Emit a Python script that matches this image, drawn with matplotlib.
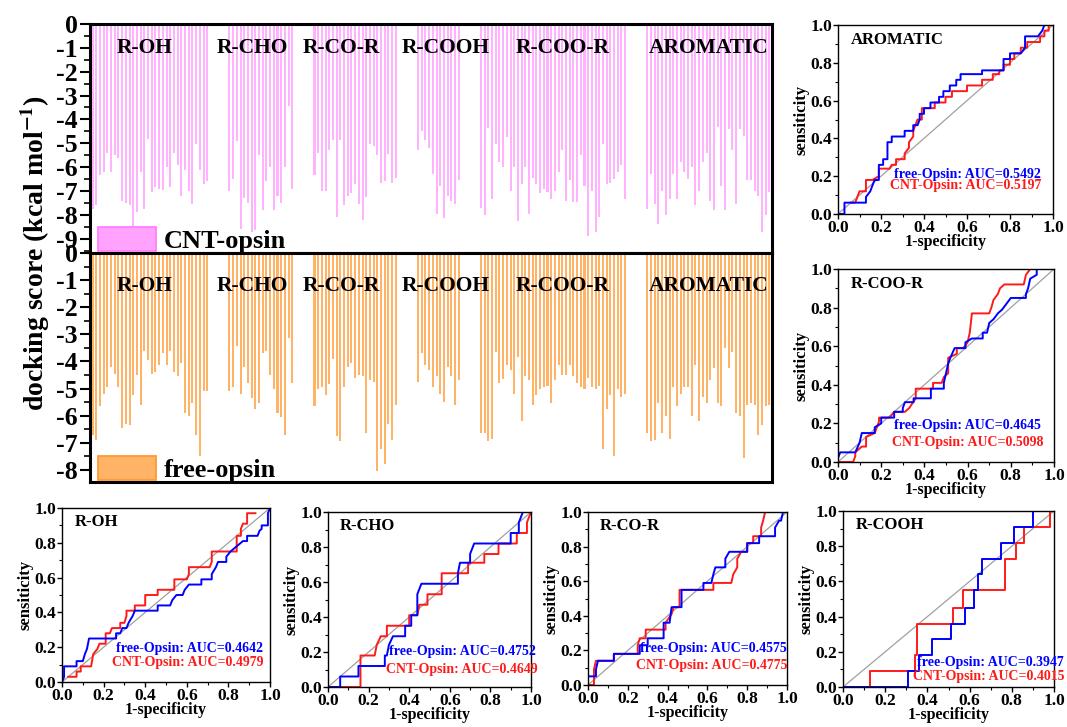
import matplotlib.pyplot as plt
from matplotlib.patches import Patch
from matplotlib.ticker import MultipleLocator
import numpy as np

plt.rcParams['font.family'] = ['Liberation Serif', 'DejaVu Serif']
plt.rcParams['font.weight'] = 'bold'
plt.rcParams['mathtext.fontset'] = 'stix'

groups = ["R-OH", "R-CHO", "R-CO-R", "R-COOH", "R-COO-R", "AROMATIC"]

# docking scores, CNT-opsin
cnt_roh = [-7.75, -7.6, -6.35, -6.2, -5.4, -6.2, -5.5, -5.6, -7.4, -7.5, -7.6, -8.5, -7.9, -6.2, -7.75, -4.8,
           -7.05, -6.85, -6.9, -6.95, -6.0, -6.85, -5.4, -5.9, -7.2, -6.1, -7.0, -7.55, -5.05, -6.1, -6.7, -6.6]
cnt_cho = [-7.0, -6.5, -4.9, -8.6, -7.3, -7.5, -8.7, -8.65, -5.5, -7.8, -6.6, -6.0, -7.8, -7.2, -7.5, -6.0,
           -3.45, -6.9]
cnt_cor = [-6.35, -5.4, -7.0, -7.0, -5.3, -4.85, -8.1, -4.85, -7.6, -7.2, -7.1, -6.7, -7.55, -8.2, -7.25, -5.05,
           -5.1, -5.5, -6.65, -6.6, -5.45, -6.65, -6.45]
cnt_cooh = [-5.3, -4.5, -4.85, -5.2, -6.3, -7.95, -6.8, -8.15, -7.2, -7.4, -7.55, -6.55]
cnt_coor = [-7.7, -8.0, -4.35, -7.35, -5.05, -5.8, -6.0, -4.75, -7.0, -6.0, -8.25, -6.7, -6.0, -7.95, -6.45, -6.7,
            -7.1, -6.9, -7.05, -7.35, -7.0, -6.2, -5.3, -7.4, -6.55, -7.45, -7.45, -5.5, -6.8, -8.9, -7.0, -8.7,
            -8.1, -5.05, -6.7, -6.65, -6.5, -6.2, -5.9, -7.35]
cnt_arom = [-7.75, -6.3, -7.55, -8.4, -7.0, -8.0, -7.35, -6.3, -7.35, -5.8, -6.2, -6.5, -6.0, -7.6, -7.0, -5.8,
            -5.4, -7.4, -7.8, -4.3, -6.8, -7.8, -4.4, -5.3, -7.55, -4.4, -4.7, -6.55, -6.55, -7.0, -7.2, -8.7,
            -8.0, -7.05]

# docking scores, free-opsin
free_roh = [-6.7, -6.9, -5.65, -5.2, -4.95, -4.2, -4.45, -4.95, -6.45, -6.3, -6.35, -5.25, -4.5, -5.6, -3.6, -3.95,
            -4.45, -4.4, -4.15, -3.7, -4.15, -3.6, -4.4, -4.55, -4.05, -5.9, -6.0, -5.55, -6.7, -7.5, -5.1, -5.1]
free_cho = [-5.1, -4.95, -3.45, -5.2, -4.2, -4.8, -5.35, -5.75, -5.55, -3.7, -3.6, -4.5, -5.0, -5.9, -6.05, -6.7,
            -3.15, -4.8]
free_cor = [-5.65, -5.0, -4.95, -5.25, -4.85, -3.9, -6.75, -6.95, -4.95, -4.2, -4.05, -4.6, -4.5, -4.55, -6.65,
            -4.7, -4.75, -8.05, -7.25, -7.8, -6.3, -6.9, -5.6]
free_cooh = [-4.75, -3.7, -4.15, -4.3, -4.95, -4.55, -5.2, -5.5, -4.2, -4.55, -5.6, -4.7]
free_coor = [-6.65, -6.65, -6.95, -6.85, -3.65, -4.8, -4.65, -4.15, -4.3, -5.2, -3.85, -6.2, -4.55, -4.7, -5.6,
             -5.25, -5.0, -4.95, -4.9, -5.55, -4.7, -4.15, -4.5, -4.5, -4.15, -4.55, -4.8, -4.95, -5.0, -4.6,
             -4.95, -5.0, -4.9, -7.25, -5.75, -5.25, -7.5, -5.0, -5.3, -5.2]
free_arom = [-6.65, -6.95, -6.9, -5.55, -6.65, -6.0, -6.85, -4.95, -5.65, -5.2, -4.95, -4.95, -6.0, -4.15, -6.2,
             -5.3, -5.55, -4.7, -4.25, -5.55, -5.65, -3.5, -4.25, -3.65, -5.9, -6.0, -7.55, -5.6, -5.55, -5.6,
             -6.7, -6.35, -5.65, -5.6]

cnt_scores = [cnt_roh, cnt_cho, cnt_cor, cnt_cooh, cnt_coor, cnt_arom]
free_scores = [free_roh, free_cho, free_cor, free_cooh, free_coor, free_arom]

# ROC curves (1-specificity, sensitivity) for free-Opsin (blue) and CNT-Opsin (red)
arom_free = [(0, 0), (0.03, 0), (0.03, 0.06), (0.13, 0.06), (0.13, 0.09), (0.15, 0.12), (0.16, 0.15), (0.17, 0.18),
             (0.19, 0.18), (0.19, 0.26), (0.21, 0.26), (0.21, 0.29), (0.23, 0.29), (0.23, 0.38), (0.25, 0.38),
             (0.25, 0.41), (0.31, 0.41), (0.31, 0.44), (0.35, 0.44), (0.35, 0.47), (0.37, 0.47), (0.38, 0.5),
             (0.38, 0.53), (0.4, 0.53), (0.4, 0.56), (0.43, 0.56), (0.43, 0.59), (0.47, 0.59), (0.47, 0.62),
             (0.49, 0.62), (0.49, 0.65), (0.52, 0.65), (0.52, 0.68), (0.55, 0.68), (0.55, 0.71), (0.57, 0.71),
             (0.57, 0.74), (0.67, 0.74), (0.67, 0.76), (0.77, 0.76), (0.77, 0.82), (0.8, 0.82), (0.8, 0.85),
             (0.85, 0.85), (0.87, 0.88), (0.87, 0.94), (0.93, 0.94), (0.95, 0.97), (0.96, 1.0), (1, 1)]
arom_cnt = [(0.06, 0.06), (0.08, 0.06), (0.09, 0.09), (0.1, 0.12), (0.13, 0.12), (0.13, 0.18), (0.16, 0.18),
            (0.19, 0.2), (0.19, 0.24), (0.24, 0.24), (0.25, 0.26), (0.27, 0.26), (0.27, 0.29), (0.31, 0.29),
            (0.31, 0.32), (0.33, 0.35), (0.33, 0.38), (0.35, 0.41), (0.35, 0.44), (0.36, 0.47), (0.37, 0.5),
            (0.39, 0.5), (0.39, 0.56), (0.45, 0.56), (0.45, 0.59), (0.5, 0.59), (0.5, 0.62), (0.53, 0.62),
            (0.53, 0.65), (0.6, 0.65), (0.6, 0.68), (0.67, 0.68), (0.67, 0.71), (0.72, 0.71), (0.72, 0.74),
            (0.75, 0.74), (0.75, 0.76), (0.77, 0.76), (0.77, 0.79), (0.8, 0.79), (0.8, 0.82), (0.82, 0.82),
            (0.82, 0.85), (0.85, 0.85), (0.85, 0.88), (0.88, 0.88), (0.88, 0.91), (0.94, 0.91), (0.94, 0.94),
            (0.96, 0.94), (0.96, 0.97), (0.98, 0.97), (0.98, 1.0), (1, 1)]
coor_free = [(0, 0.02), (0.01, 0.05), (0.08, 0.05), (0.1, 0.1), (0.11, 0.15), (0.17, 0.15), (0.17, 0.18),
             (0.2, 0.2), (0.2, 0.23), (0.26, 0.23), (0.26, 0.26), (0.3, 0.26), (0.3, 0.28), (0.31, 0.31),
             (0.35, 0.31), (0.35, 0.33), (0.43, 0.33), (0.43, 0.38), (0.49, 0.38), (0.49, 0.41), (0.5, 0.46),
             (0.51, 0.51), (0.52, 0.54), (0.54, 0.59), (0.59, 0.59), (0.59, 0.62), (0.62, 0.64), (0.67, 0.64),
             (0.67, 0.67), (0.69, 0.67), (0.7, 0.72), (0.72, 0.74), (0.74, 0.77), (0.76, 0.79), (0.78, 0.82),
             (0.8, 0.85), (0.87, 0.85), (0.87, 0.87), (0.88, 0.9), (0.89, 0.95), (0.92, 0.97), (0.92, 1.0), (1, 1)]
coor_cnt = [(0, 0), (0.07, 0), (0.08, 0.03), (0.08, 0.05), (0.11, 0.08), (0.13, 0.08), (0.13, 0.13), (0.17, 0.15),
            (0.18, 0.18), (0.19, 0.21), (0.19, 0.23), (0.24, 0.23), (0.26, 0.26), (0.31, 0.26), (0.33, 0.28),
            (0.36, 0.33), (0.36, 0.38), (0.44, 0.38), (0.44, 0.41), (0.48, 0.41), (0.49, 0.44), (0.51, 0.46),
            (0.51, 0.54), (0.55, 0.56), (0.55, 0.59), (0.58, 0.59), (0.6, 0.62), (0.61, 0.67), (0.62, 0.77),
            (0.7, 0.77), (0.71, 0.8), (0.72, 0.84), (0.74, 0.87), (0.75, 0.9), (0.77, 0.92), (0.86, 0.92),
            (0.87, 0.97), (0.89, 1.0), (1, 1)]
roh_free = [(0, 0), (0.01, 0.03), (0.01, 0.09), (0.07, 0.09), (0.07, 0.12), (0.1, 0.12), (0.11, 0.16),
            (0.12, 0.19), (0.13, 0.25), (0.26, 0.25), (0.26, 0.28), (0.28, 0.28), (0.29, 0.31), (0.31, 0.31),
            (0.32, 0.34), (0.34, 0.38), (0.35, 0.41), (0.46, 0.41), (0.46, 0.44), (0.52, 0.44), (0.53, 0.47),
            (0.55, 0.5), (0.58, 0.5), (0.59, 0.53), (0.61, 0.56), (0.67, 0.56), (0.67, 0.59), (0.72, 0.59),
            (0.72, 0.62), (0.74, 0.66), (0.75, 0.69), (0.79, 0.69), (0.79, 0.72), (0.81, 0.75), (0.84, 0.78),
            (0.87, 0.81), (0.89, 0.81), (0.89, 0.84), (0.94, 0.84), (0.95, 0.87), (0.96, 0.88), (0.96, 0.9),
            (0.99, 0.9), (0.99, 0.97), (1.0, 1.0)]
roh_cnt = [(0.03, 0.03), (0.07, 0.03), (0.07, 0.06), (0.09, 0.06), (0.09, 0.09), (0.14, 0.09), (0.15, 0.16),
           (0.17, 0.19), (0.18, 0.22), (0.21, 0.22), (0.21, 0.28), (0.23, 0.28), (0.24, 0.31), (0.28, 0.31),
           (0.28, 0.34), (0.3, 0.34), (0.31, 0.38), (0.31, 0.41), (0.35, 0.41), (0.35, 0.44), (0.4, 0.44),
           (0.4, 0.5), (0.46, 0.5), (0.46, 0.53), (0.54, 0.53), (0.54, 0.59), (0.6, 0.59), (0.61, 0.62),
           (0.61, 0.66), (0.71, 0.66), (0.72, 0.69), (0.72, 0.75), (0.84, 0.75), (0.84, 0.84), (0.86, 0.84),
           (0.86, 0.88), (0.87, 0.91), (0.89, 0.91), (0.89, 0.97), (0.93, 0.97)]
cho_free = [(0, 0), (0.06, 0), (0.06, 0.06), (0.15, 0.06), (0.15, 0.12), (0.28, 0.12), (0.28, 0.18), (0.29, 0.18),
            (0.3, 0.24), (0.32, 0.29), (0.38, 0.29), (0.38, 0.35), (0.41, 0.35), (0.41, 0.41), (0.44, 0.41),
            (0.44, 0.53), (0.46, 0.59), (0.64, 0.59), (0.64, 0.65), (0.65, 0.71), (0.7, 0.71), (0.7, 0.76),
            (0.72, 0.82), (0.9, 0.82), (0.9, 0.88), (0.94, 0.88), (0.94, 0.94), (0.96, 1.0), (1, 1)]
cho_cnt = [(0, 0), (0.16, 0), (0.16, 0.18), (0.23, 0.18), (0.24, 0.24), (0.26, 0.29), (0.29, 0.29), (0.29, 0.35),
           (0.4, 0.35), (0.4, 0.41), (0.44, 0.41), (0.45, 0.47), (0.49, 0.47), (0.49, 0.53), (0.56, 0.53),
           (0.56, 0.65), (0.69, 0.65), (0.69, 0.71), (0.77, 0.71), (0.77, 0.76), (0.84, 0.76), (0.84, 0.82),
           (0.93, 0.82), (0.93, 0.88), (0.98, 0.88), (0.98, 0.94), (1.0, 1.0)]
cor_free = [(0, 0.05), (0.04, 0.05), (0.04, 0.09), (0.05, 0.14), (0.13, 0.14), (0.13, 0.18), (0.26, 0.18),
            (0.26, 0.23), (0.3, 0.23), (0.3, 0.27), (0.38, 0.27), (0.38, 0.36), (0.41, 0.36), (0.42, 0.45),
            (0.47, 0.45), (0.47, 0.55), (0.58, 0.55), (0.58, 0.59), (0.62, 0.59), (0.63, 0.64), (0.64, 0.68),
            (0.69, 0.68), (0.69, 0.73), (0.71, 0.77), (0.8, 0.77), (0.8, 0.82), (0.86, 0.82), (0.86, 0.86),
            (0.94, 0.86), (0.94, 0.91), (0.96, 0.95), (0.97, 0.95), (0.98, 1.0)]
cor_cnt = [(0, 0), (0.03, 0), (0.03, 0.09), (0.04, 0.14), (0.13, 0.14), (0.13, 0.18), (0.25, 0.18), (0.25, 0.23),
           (0.26, 0.27), (0.29, 0.27), (0.29, 0.32), (0.39, 0.32), (0.39, 0.36), (0.42, 0.41), (0.43, 0.45),
           (0.46, 0.45), (0.46, 0.55), (0.63, 0.55), (0.63, 0.59), (0.72, 0.59), (0.73, 0.64), (0.75, 0.68),
           (0.75, 0.73), (0.77, 0.77), (0.8, 0.77), (0.8, 0.82), (0.83, 0.82), (0.83, 0.86), (0.87, 0.86),
           (0.87, 0.91), (0.88, 0.95), (0.89, 1.0), (1, 1)]
cooh_free = [(0, 0), (0.31, 0), (0.31, 0.09), (0.36, 0.09), (0.36, 0.18), (0.42, 0.18), (0.42, 0.27), (0.51, 0.27),
             (0.51, 0.36), (0.58, 0.36), (0.58, 0.45), (0.62, 0.45), (0.62, 0.55), (0.64, 0.55), (0.64, 0.64),
             (0.66, 0.64), (0.66, 0.73), (0.75, 0.73), (0.75, 0.82), (0.81, 0.82), (0.81, 0.91), (0.9, 0.91),
             (0.9, 1.0), (1, 1)]
cooh_cnt = [(0, 0), (0.13, 0), (0.13, 0.09), (0.34, 0.09), (0.34, 0.18), (0.35, 0.18), (0.35, 0.36), (0.52, 0.36),
            (0.52, 0.45), (0.57, 0.45), (0.57, 0.55), (0.77, 0.55), (0.77, 0.73), (0.82, 0.73), (0.82, 0.82),
            (0.86, 0.82), (0.86, 0.91), (0.98, 0.91), (0.98, 1.0), (1, 1)]

auc_free = {"AROMATIC": "0.5492", "R-COO-R": "0.4645", "R-OH": "0.4642",
            "R-CHO": "0.4752", "R-CO-R": "0.4575", "R-COOH": "0.3947"}
auc_cnt = {"AROMATIC": "0.5197", "R-COO-R": "0.5098", "R-OH": "0.4979",
           "R-CHO": "0.4649", "R-CO-R": "0.4775", "R-COOH": "0.4015"}

pink = "#ffb3ff"
orange = "#ffb366"

W, H = 1067, 727


def box(l, t, r, b):
    return [l / W, 1 - b / H, (r - l) / W, (b - t) / H]


fig = plt.figure(figsize=(W / 100, H / 100), dpi=100)

# ---- docking score bars ----
gap = 5
positions = []
start = 0
for s in cnt_scores:
    positions.append(np.arange(start, start + len(s)))
    start += len(s) + gap
xmax = start - gap
label_shift = [-1.3, -2.4, -3.6, 2.1, 2.7, 0.0]  # group labels sit a bit off-centre

ax_top = fig.add_axes(box(90, 24, 772, 253))
ax_bot = fig.add_axes(box(90, 253, 772, 482))

panels = [(ax_top, cnt_scores, pink, "#ffa3ff", "#ff80ff", "CNT-opsin", -9.6, 10, -1.0),
          (ax_bot, free_scores, orange, "#ffb366", "#ff9933", "free-opsin", -8.45, 9, -1.2)]
for ax, scores, col, fc, edge, name, ymin, nt, ylab in panels:
    for g, x, s, dx in zip(groups, positions, scores, label_shift):
        ax.bar(x, s, width=0.55, color=col, linewidth=0)
        ax.text(x.mean() + dx, ylab, g, ha="center", va="center", fontsize=15.5, fontweight="bold")
    ax.set_xlim(-0.7, xmax - 0.3)
    ax.set_ylim(ymin, 0)
    ax.set_yticks(-np.arange(nt))
    ax.set_yticklabels([str(-i) if i else "0" for i in range(nt)])
    ax.yaxis.set_minor_locator(MultipleLocator(0.5))
    ax.set_xticks([])
    ax.tick_params(axis="y", which="major", direction="out", length=7, width=1.5, labelsize=18.5, pad=2)
    ax.tick_params(axis="y", which="minor", direction="out", length=4, width=1.2)
    for sp in ax.spines.values():
        sp.set_linewidth(2.2)
    handle = Patch(facecolor=fc, edgecolor=edge, linewidth=1.3)
    ax.legend([handle], [name], loc="lower left", bbox_to_anchor=(0.008, -0.012), frameon=False,
              handlelength=2.2, handleheight=1.0, handletextpad=0.3, borderaxespad=0.0, borderpad=0.1,
              prop={"family": "Liberation Serif", "weight": "bold", "size": 19})

fig.text(35 / W, 1 - 253 / H, "docking score (kcal mol$^{\\mathbf{-1}}$)", rotation=90,
         ha="center", va="center", fontsize=20, fontweight="bold")

# ---- ROC panels ----
roc_panels = [
    ("AROMATIC", box(838, 25, 1053, 214), arom_free, arom_cnt, (0.26, 0.21), (0.24, 0.15)),
    ("R-COO-R", box(838, 269, 1054, 462), coor_free, coor_cnt, (0.26, 0.19), (0.25, 0.10)),
    ("R-OH", box(62, 508, 270, 682), roh_free, roh_cnt, (0.26, 0.19), (0.24, 0.11)),
    ("R-CHO", box(328, 512, 531, 687), cho_free, cho_cnt, (0.30, 0.20), (0.285, 0.10)),
    ("R-CO-R", box(588, 512, 787, 685), cor_free, cor_cnt, (0.26, 0.21), (0.24, 0.11)),
    ("R-COOH", box(843, 511, 1054, 687), cooh_free, cooh_cnt, (0.35, 0.14), (0.33, 0.06)),
]

for title, rect, free_pts, cnt_pts, pb, pr in roc_panels:
    ax = fig.add_axes(rect)
    ax.plot([0, 1], [0, 1], color="#a0a0a0", lw=0.9)
    ax.plot(*zip(*cnt_pts), color="#ff1a1a", lw=1.4)
    ax.plot(*zip(*free_pts), color="#0000ff", lw=1.4)
    ax.set_xlim(0, 1)
    ax.set_ylim(0, 1)
    ax.set_xticks(np.arange(0, 1.01, 0.2))
    ax.set_yticks(np.arange(0, 1.01, 0.2))
    ax.xaxis.set_minor_locator(MultipleLocator(0.1))
    ax.yaxis.set_minor_locator(MultipleLocator(0.1))
    ax.tick_params(which="major", direction="out", length=3.5, width=1, labelsize=12.5, pad=0.5)
    ax.tick_params(which="minor", direction="out", length=2.5, width=0.8)
    ax.set_xlabel("1-specificity", fontsize=11.5, fontweight="bold", labelpad=-1)
    ax.set_ylabel("sensiticity", fontsize=12, fontweight="bold", labelpad=1)
    for sp in ax.spines.values():
        sp.set_linewidth(1.0)
    ax.text(0.06, 0.92, title, transform=ax.transAxes, fontsize=12, fontweight="bold", va="center")
    ax.text(pb[0], pb[1], "free-Opsin: AUC=" + auc_free[title], transform=ax.transAxes,
            color="#0000ff", fontsize=10, fontweight="bold", va="center")
    ax.text(pr[0], pr[1], "CNT-Opsin: AUC=" + auc_cnt[title], transform=ax.transAxes,
            color="#ff1a1a", fontsize=10, fontweight="bold", va="center")

fig.savefig("out.png", dpi=100)
